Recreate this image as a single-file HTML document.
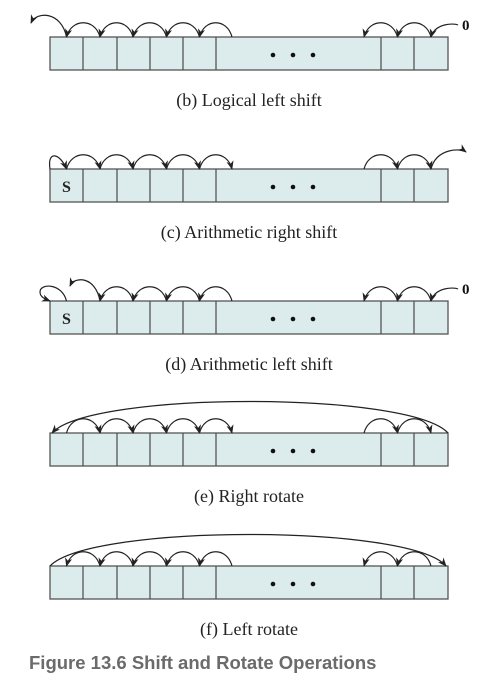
<!DOCTYPE html>
<html><head><meta charset="utf-8"><style>
body{margin:0;background:#fff;width:494px;height:688px;overflow:hidden}
svg{display:block}
</style></head><body>
<svg id="fig" width="494" height="688" viewBox="0 0 494 688">
<defs><marker id="ah" viewBox="0 0 10 10" refX="9" refY="5" markerWidth="9" markerHeight="9" orient="auto-start-reverse" markerUnits="userSpaceOnUse"><path d="M0,1 L10,5 L0,9 L3,5 z" fill="#222"/></marker></defs>
</svg>
<script>
const rowTops=[37,169,301,433,566];
const captions=["(b) Logical left shift","(c) Arithmetic right shift","(d) Arithmetic left shift","(e) Right rotate","(f) Left rotate"];
const rowNames=["logical-left-shift","arithmetic-right-shift","arithmetic-left-shift","right-rotate","left-rotate"];
const cellEdges=[50,83,117,150,183,216,381,414,448];
const svg=document.getElementById('fig');
const NS='http://www.w3.org/2000/svg';
function mk(t,a,p){const e=document.createElementNS(NS,t);for(const k in a)e.setAttribute(k,a[k]);(p||svg).appendChild(e);return e;}
function arc(g,x1,y1,x2,y2,h){const mx=(x1+x2)/2,top=Math.min(y1,y2)-h;
 const p=mk('path',{d:`M${x1},${y1} C${x1+(mx-x1)*0.3},${top} ${x2-(x2-mx)*0.3},${top} ${x2},${y2}`,fill:'none',stroke:'#222','stroke-width':1.2,'marker-end':'url(#ah)'},g);
 
 
 return p;}
const centers=[66.5,100,133,166.5,199.5,232,364,397.5,431];
rowTops.forEach((top,r)=>{
 const g=mk('g',{});
 
 
 const bot=top+33;
 mk('rect',{x:50,y:top,width:398,height:33,fill:'#dcecec',stroke:'#555','stroke-width':1.3},g);
 cellEdges.slice(1,-1).forEach(x=>mk('line',{x1:x,y1:top,x2:x,y2:bot,stroke:'#555','stroke-width':1.3},g));
 [273,293,313].forEach(x=>mk('circle',{cx:x,cy:top+18,r:2.3,fill:'#111'},g));
 if(r===1||r===2){const s=mk('text',{x:66.5,y:top+23,'text-anchor':'middle','font-family':'Liberation Serif, serif','font-weight':'bold','font-size':16,fill:'#222'},g);s.textContent='S';}
 const c=centers;
 if(r===0||r===2||r===4){
  const pairs=[[1,0],[2,1],[3,2],[4,3],[5,4],[7,6],[8,7]];
  pairs.forEach(([a,b])=>{ if(r===2&&a===1)return; arc(g,c[a],top,c[b],top,19);});
  if(r===0){arc(g,c[0],top,31,top-14,12);}
  if(r===2){arc(g,c[1],top,70,top-15,10);
    mk('path',{d:`M${c[0]},${top} C62,${top-18} 40,${top-18} 40,${top-9} C40,${top-4} 45,${top-2} 50,${top}`,fill:'none',stroke:'#222','stroke-width':1.2,'marker-end':'url(#ah)'},g);}
  if(r===0||r===2){arc(g,458,top-12,c[8],top,2);
    const z=mk('text',{x:462,y:top-7,'font-family':'Liberation Serif, serif','font-weight':'bold','font-size':15,fill:'#111'},g);z.textContent='0';}
  if(r===4){mk('path',{d:`M50,${top} C90,${top-42} 410,${top-42} 446,${top}`,fill:'none',stroke:'#222','stroke-width':1.2,'marker-end':'url(#ah)'},g);}
 } else {
  const pairs=[[0,1],[1,2],[2,3],[3,4],[4,5],[6,7],[7,8]];
  pairs.forEach(([a,b])=>arc(g,c[a],top,c[b],top,19));
  if(r===1){mk('path',{d:`M50,${top} C47,${top-19} 60,${top-16} ${c[0]},${top}`,fill:'none',stroke:'#222','stroke-width':1.2,'marker-end':'url(#ah)'},g);
    arc(g,c[8],top,466,top-17,4);}
  if(r===3){mk('path',{d:`M448,${top} C410,${top-42} 90,${top-42} 52,${top}`,fill:'none',stroke:'#222','stroke-width':1.2,'marker-end':'url(#ah)'},g);}
 }
 const t=mk('text',{x:249,y:top+69,'text-anchor':'middle','font-family':'Liberation Serif, serif','font-size':18,fill:'#222'});
 t.textContent=captions[r];
 
 
});
const ft=mk('text',{x:29,y:669,'font-family':'Liberation Sans, sans-serif','font-weight':'bold','font-size':18.5,fill:'#6b6b6b'});
ft.textContent='Figure 13.6 Shift and Rotate Operations';


</script>
</body></html>
